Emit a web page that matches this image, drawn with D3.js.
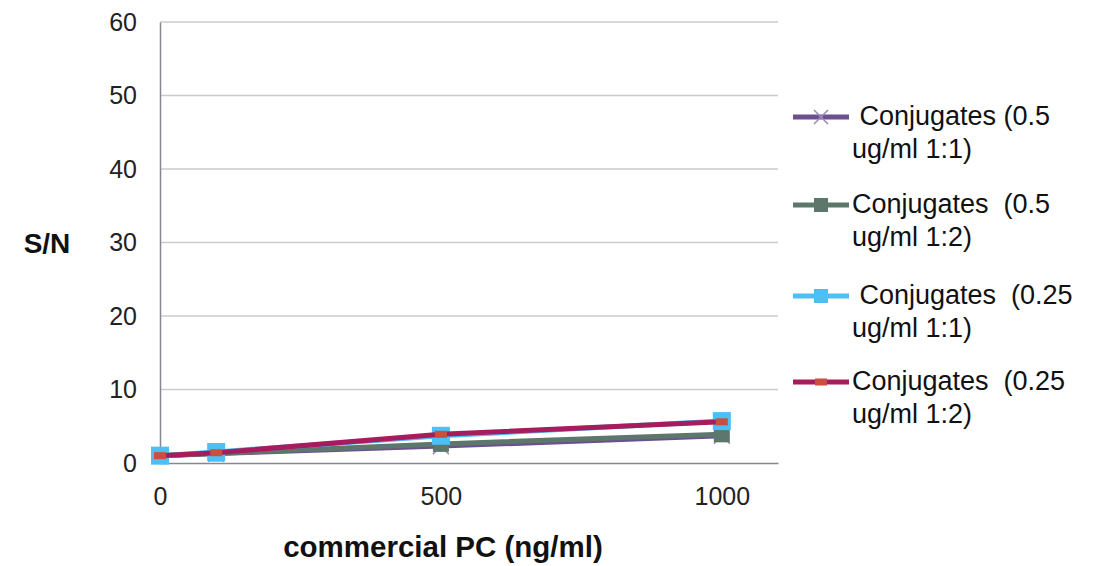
<!DOCTYPE html>
<html><head><meta charset="utf-8">
<script src="https://cdn.jsdelivr.net/npm/d3@7"></script>
<style>body{margin:0;background:#fff;} svg{display:block;}</style>
</head><body>
<svg id="c" width="1104" height="566"></svg>
<script>
const xValues = [0, 100, 500, 1000];
const seriesNames = ["Conjugates (0.5 ug/ml 1:1)", "Conjugates (0.5 ug/ml 1:2)", "Conjugates (0.25 ug/ml 1:1)", "Conjugates (0.25 ug/ml 1:2)"];
const legendLine1 = [" Conjugates (0.5", "Conjugates  (0.5", " Conjugates  (0.25", "Conjugates  (0.25"];
const legendLine2 = ["ug/ml 1:1)", "ug/ml 1:2)", "ug/ml 1:1)", "ug/ml 1:2)"];
const s1 = [1.0, 1.3, 2.3, 3.7];
const s2 = [1.0, 1.3, 2.6, 3.9];
const s3 = [1.0, 1.5, 3.7, 5.7];
const s4 = [1.0, 1.4, 3.9, 5.6];
const yTicks = [0, 10, 20, 30, 40, 50, 60];
const xTicks = [0, 500, 1000];
const colors = ["#6b4f8f", "#5e776c", "#4cbff5", "#a61c5c"];
const markers = ["x", "square", "square", "none"];

const FONT = "Liberation Sans, Arial, sans-serif";
const svg = d3.select("#c");
const L = 160, R = 778, T = 22, B = 463;
const x = d3.scaleLinear().domain([0, 1100]).range([L, R]);
const y = d3.scaleLinear().domain([0, 60]).range([B, T]);

// gridlines
svg.append("g").selectAll("line").data(yTicks.filter(d => d > 0)).join("line")
  .attr("x1", L).attr("x2", R).attr("y1", d => y(d)).attr("y2", d => y(d))
  .attr("stroke", "#cbcbcb").attr("stroke-width", 1.3);

// y axis
const ya = svg.append("g").attr("transform", `translate(${L},0)`)
  .call(d3.axisLeft(y).tickValues(yTicks).tickSize(0).tickPadding(23));
ya.select(".domain").attr("stroke", "#858890").attr("stroke-width", 1.5);
ya.selectAll("text").attr("font-family", FONT).attr("font-size", 25).attr("fill", "#222");

// x axis
const xa = svg.append("g").attr("transform", `translate(0,${B})`)
  .call(d3.axisBottom(x).tickValues(xTicks).tickSize(0).tickPadding(24).tickFormat(d3.format("d")));
xa.select(".domain").attr("stroke", "#858890").attr("stroke-width", 1.5);
xa.selectAll("text").attr("font-family", FONT).attr("font-size", 25).attr("fill", "#222");

// axis titles
svg.append("text").attr("x", 47).attr("y", 253).attr("text-anchor", "middle")
  .attr("font-family", FONT).attr("font-weight", "bold")
  .attr("font-size", 28).attr("fill", "#111").text("S/N");
svg.append("text").attr("x", 443).attr("y", 557).attr("text-anchor", "middle")
  .attr("font-family", FONT).attr("font-weight", "bold")
  .attr("font-size", 29.5).attr("fill", "#111").text("commercial PC (ng/ml)");

const allSeries = [s1, s2, s3, s4];
const line = d3.line().x((d, i) => x(xValues[i])).y(d => y(d));

function drawMarker(g, type, color, cx, cy, size) {
  if (type === "square") {
    g.append("rect").attr("x", cx - size / 2).attr("y", cy - size / 2)
      .attr("width", size).attr("height", size).attr("fill", color);
  } else if (type === "x") {
    const h = size / 2;
    g.append("path").attr("d", `M${cx - h},${cy - h}L${cx + h},${cy + h}M${cx - h},${cy + h}L${cx + h},${cy - h}`)
      .attr("stroke", "#9b8bb5").attr("stroke-width", 1.5).attr("fill", "none");
  } else {
    g.append("rect").attr("x", cx - 6).attr("y", cy - 3.5)
      .attr("width", 12).attr("height", 7).attr("fill", "#c9503f");
  }
}

allSeries.forEach((s, k) => {
  const g = svg.append("g");
  g.append("path").datum(s).attr("d", line).attr("fill", "none")
    .attr("stroke", colors[k]).attr("stroke-width", 5);
  s.forEach((v, i) => {
    const size = k === 2 ? 18 : 16;
    drawMarker(g, markers[k], colors[k], x(xValues[i]), y(v), size);
  });
});

// legend
const legY = [117, 205, 296, 382];
const leg = svg.append("g");
seriesNames.forEach((n, k) => {
  const g = leg.append("g");
  g.append("line").attr("x1", 793).attr("x2", 849).attr("y1", legY[k]).attr("y2", legY[k])
    .attr("stroke", colors[k]).attr("stroke-width", 5);
  drawMarker(g, markers[k], colors[k], 821, legY[k], 14);
  const t = g.append("text").attr("font-family", FONT)
    .attr("font-size", 27).attr("fill", "#111").attr("xml:space", "preserve");
  t.append("tspan").attr("x", 852).attr("y", legY[k] + 8).text(legendLine1[k]);
  t.append("tspan").attr("x", 852).attr("y", legY[k] + 41).text(legendLine2[k]);
});
</script>
</body></html>
